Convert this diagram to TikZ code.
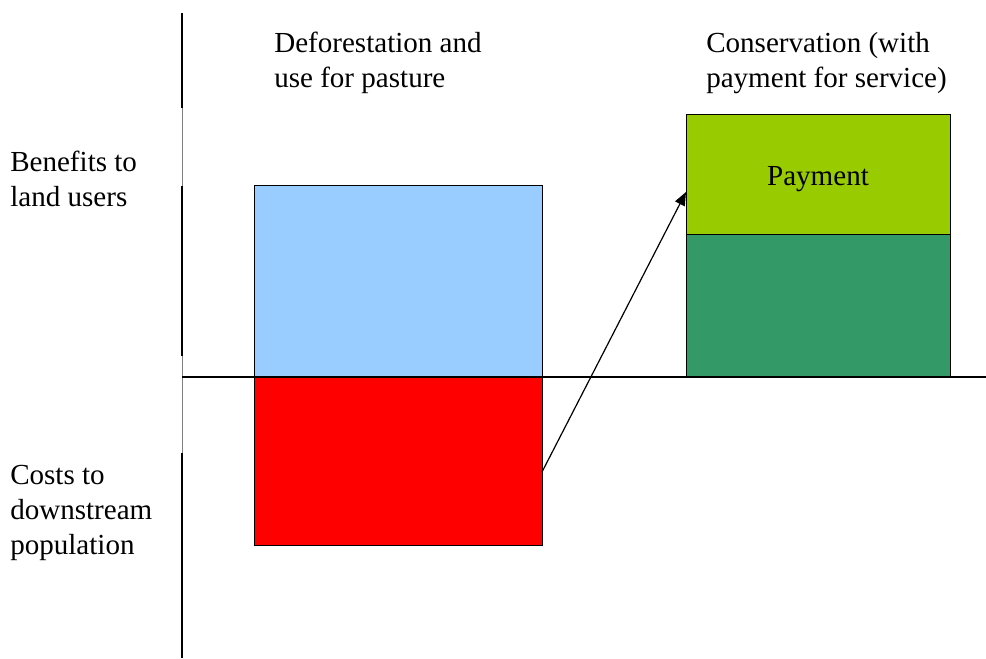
\documentclass[tikz,border=0pt]{standalone}
\usepackage{fontspec}
\setmainfont{Liberation Serif}
\usepackage{xcolor}
\usetikzlibrary{arrows.meta,positioning}

\definecolor{benefitblue}{HTML}{99CCFF}
\definecolor{costred}{HTML}{FF0000}
\definecolor{paylime}{HTML}{99CC00}
\definecolor{keepgreen}{HTML}{339966}

\begin{document}
\begin{tikzpicture}[
  x=0.75pt, y=-0.75pt,
  bar/.style={draw, line width=0.75pt, inner sep=0pt, outer sep=0pt,
    anchor=south west},
  lbl/.style={anchor=north west, inner sep=0pt, align=left,
    font=\fontsize{21.8}{26.2}\selectfont},
  axis/.style={line width=1pt},
  arr/.style={-{Triangle[length=10pt, width=8pt]}, line width=0.9pt}
]
  \useasboundingbox (0,0) rectangle (986,658);

  % axes
  \draw[gray, line width=0.4pt] (182,13) -- (182,658);
  \draw[axis] (182,13) -- (182,108);
  \draw[axis] (182,186) -- (182,356);
  \draw[axis] (182,453) -- (182,658);

  % bars
  \node[bar, fill=benefitblue, minimum width=216pt, minimum height=144pt] (gain) at (254,377) {};
  \node[bar, fill=costred, anchor=north west, minimum width=216pt, minimum height=126pt] (loss) at (254,377) {};
  \node[bar, fill=keepgreen, minimum width=198pt, minimum height=107.25pt] (keep) at (686,377) {};
  \node[bar, fill=paylime, anchor=south west, minimum width=198pt, minimum height=90pt,
    label={[lbl, anchor=center, yshift=-4pt]center:Payment}] (pay) at (keep.north west) {};

  \draw[axis] (182,377) -- (986,377);

  % labels
  \node[lbl] (defor) at (274,32) {Deforestation and\\use for pasture};
  \node[lbl] (cons) at (706,32) {Conservation (with\\payment for service)};
  \node[lbl] (benefit) at (10,151) {Benefits to\\land users};
  \node[lbl] (cost) at (10,465) {Costs to\\downstream\\population};

  \draw[arr] ([yshift=-8.25pt]loss.east) -- ([yshift=-13.5pt]pay.west);
\end{tikzpicture}
\end{document}
